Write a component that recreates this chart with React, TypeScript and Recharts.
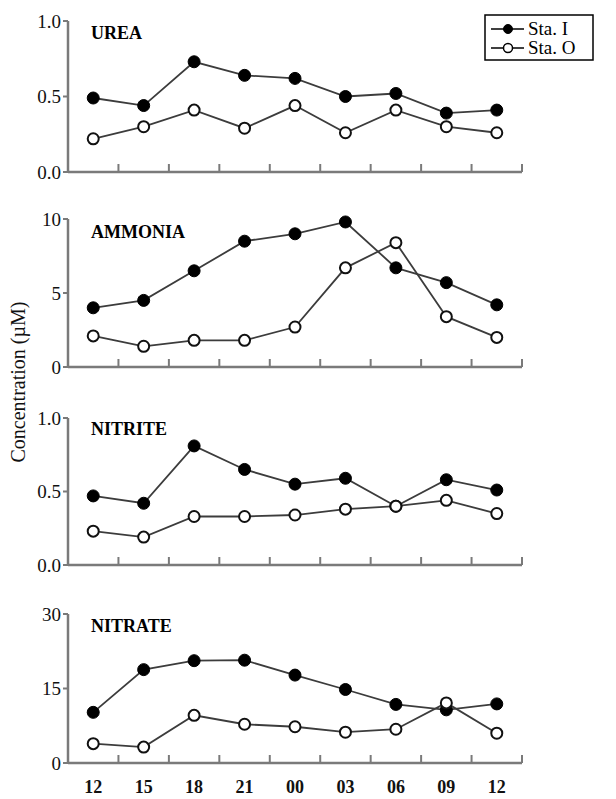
import React from 'react';
import { LineChart, Line, XAxis, YAxis } from 'recharts';

// sampling hours
const hours = ['12', '15', '18', '21', '00', '03', '06', '09', '12'];

// Sta. I / Sta. O values (µM)
const ureaI = [0.49, 0.44, 0.73, 0.64, 0.62, 0.5, 0.52, 0.39, 0.41];
const ureaO = [0.22, 0.3, 0.41, 0.29, 0.44, 0.26, 0.41, 0.3, 0.26];
const ammoniaI = [4.0, 4.5, 6.5, 8.5, 9.0, 9.8, 6.7, 5.7, 4.2];
const ammoniaO = [2.1, 1.4, 1.8, 1.8, 2.7, 6.7, 8.4, 3.4, 2.0];
const nitriteI = [0.47, 0.42, 0.81, 0.65, 0.55, 0.59, 0.4, 0.58, 0.51];
const nitriteO = [0.23, 0.19, 0.33, 0.33, 0.34, 0.38, 0.4, 0.44, 0.35];
const nitrateI = [10.2, 18.8, 20.6, 20.7, 17.7, 14.8, 11.8, 10.7, 11.9];
const nitrateO = [3.9, 3.2, 9.6, 7.8, 7.3, 6.2, 6.8, 12.1, 6.0];

const FONT = '"Liberation Serif", "Times New Roman", serif';
const AXIS = '#7a7a7a';
const LINE = '#3c3c3c';

const panels = [
  { name: 'UREA', I: ureaI, O: ureaO, max: 1, ticks: [0, 0.5, 1], dec: 1, top: 21, bottom: 172 },
  { name: 'AMMONIA', I: ammoniaI, O: ammoniaO, max: 10, ticks: [0, 5, 10], dec: 0, top: 219, bottom: 367 },
  { name: 'NITRITE', I: nitriteI, O: nitriteO, max: 1, ticks: [0, 0.5, 1], dec: 1, top: 418, bottom: 565 },
  { name: 'NITRATE', I: nitrateI, O: nitrateO, max: 30, ticks: [0, 15, 30], dec: 0, top: 614, bottom: 763 }
];

const PLOT_LEFT = 68;
const PLOT_RIGHT = 522;
const HALF = (PLOT_RIGHT - PLOT_LEFT) / hours.length / 2;
const idxTicks = hours.map((_, i) => i);

// label at each sample, tick mark half a step to its right
const XTick = (props: any) => {
  const { x, y, payload, showLabels } = props;
  const v = payload.value;
  return (
    <g>
      <line x1={x + HALF} x2={x + HALF} y1={y} y2={y - 8} stroke={AXIS} strokeWidth={2} />
      {showLabels && (
        <text x={x} y={y + 30} textAnchor="middle" fontFamily={FONT} fontSize={18} fontWeight="bold" fill="#111">
          {hours[v]}
        </text>
      )}
    </g>
  );
};

const PAD = 12;

const Panel = ({ p, last }: { p: any; last: boolean }) => {
  const data = hours.map((h, i) => ({ idx: i, hour: h, I: p.I[i], O: p.O[i] }));
  const plotH = p.bottom - p.top;
  const xh = last ? 36 : 14;
  return (
    <div style={{ position: 'absolute', left: 0, top: p.top - PAD }}>
      <LineChart
        width={616}
        height={PAD + plotH + xh}
        data={data}
        margin={{ top: PAD, right: 616 - PLOT_RIGHT, bottom: 0, left: 0 }}
      >
        <XAxis
          dataKey="idx"
          type="number"
          domain={[-0.5, 8.5]}
          ticks={idxTicks}
          interval={0}
          height={xh}
          tickLine={false}
          tickSize={0}
          tickMargin={0}
          axisLine={{ stroke: AXIS, strokeWidth: 2.5 }}
          tick={<XTick showLabels={last} />}
        />
        <YAxis
          type="number"
          domain={[0, p.max]}
          ticks={p.ticks}
          interval={0}
          width={PLOT_LEFT}
          tickSize={5}
          tickMargin={2}
          axisLine={{ stroke: AXIS, strokeWidth: 2.5 }}
          tickLine={{ stroke: AXIS, strokeWidth: 2 }}
          tick={{ fontFamily: FONT, fontSize: 19, fill: '#111' }}
          tickFormatter={(v: number) => v.toFixed(p.dec)}
        />
        <Line
          dataKey="I"
          stroke={LINE}
          strokeWidth={1.8}
          dot={{ r: 6, fill: '#000', stroke: '#000', strokeWidth: 1 }}
          isAnimationActive={false}
        />
        <Line
          dataKey="O"
          stroke={LINE}
          strokeWidth={1.8}
          dot={{ r: 5.5, fill: '#fff', stroke: '#111', strokeWidth: 2 }}
          isAnimationActive={false}
        />
      </LineChart>
    </div>
  );
};

const titleY = [39, 238, 435, 632];

export default function App() {
  return (
    <div style={{ position: 'absolute', left: 0, top: 0, width: 616, height: 799, background: '#fff', fontFamily: FONT }}>
      {panels.map((p, i) => (
        <Panel key={p.name} p={p} last={i === panels.length - 1} />
      ))}
      <svg width={616} height={799} style={{ position: 'absolute', left: 0, top: 0, pointerEvents: 'none' }}>
        {panels.map((p, i) => (
          <text key={p.name} x={91} y={titleY[i]} fontFamily={FONT} fontSize={18} fontWeight="bold" fill="#000">
            {p.name}
          </text>
        ))}
        <text transform="translate(25,382) rotate(-90)" textAnchor="middle" fontFamily={FONT} fontSize={20} fill="#111">
          Concentration (µM)
        </text>
        <g>
          <rect x={485} y={15} width={108} height={45} fill="#fff" stroke="#000" strokeWidth={1.5} />
          <line x1={491} x2={524} y1={29} y2={29} stroke="#000" strokeWidth={1.5} />
          <circle cx={508} cy={29} r={4.5} fill="#000" stroke="#000" />
          <text x={528} y={35} fontFamily={FONT} fontSize={19} fill="#000">Sta. I</text>
          <line x1={491} x2={524} y1={48} y2={48} stroke="#000" strokeWidth={1.5} />
          <circle cx={508} cy={48} r={4.5} fill="#fff" stroke="#000" strokeWidth={1.5} />
          <text x={528} y={54} fontFamily={FONT} fontSize={19} fill="#000">Sta. O</text>
        </g>
      </svg>
    </div>
  );
}
